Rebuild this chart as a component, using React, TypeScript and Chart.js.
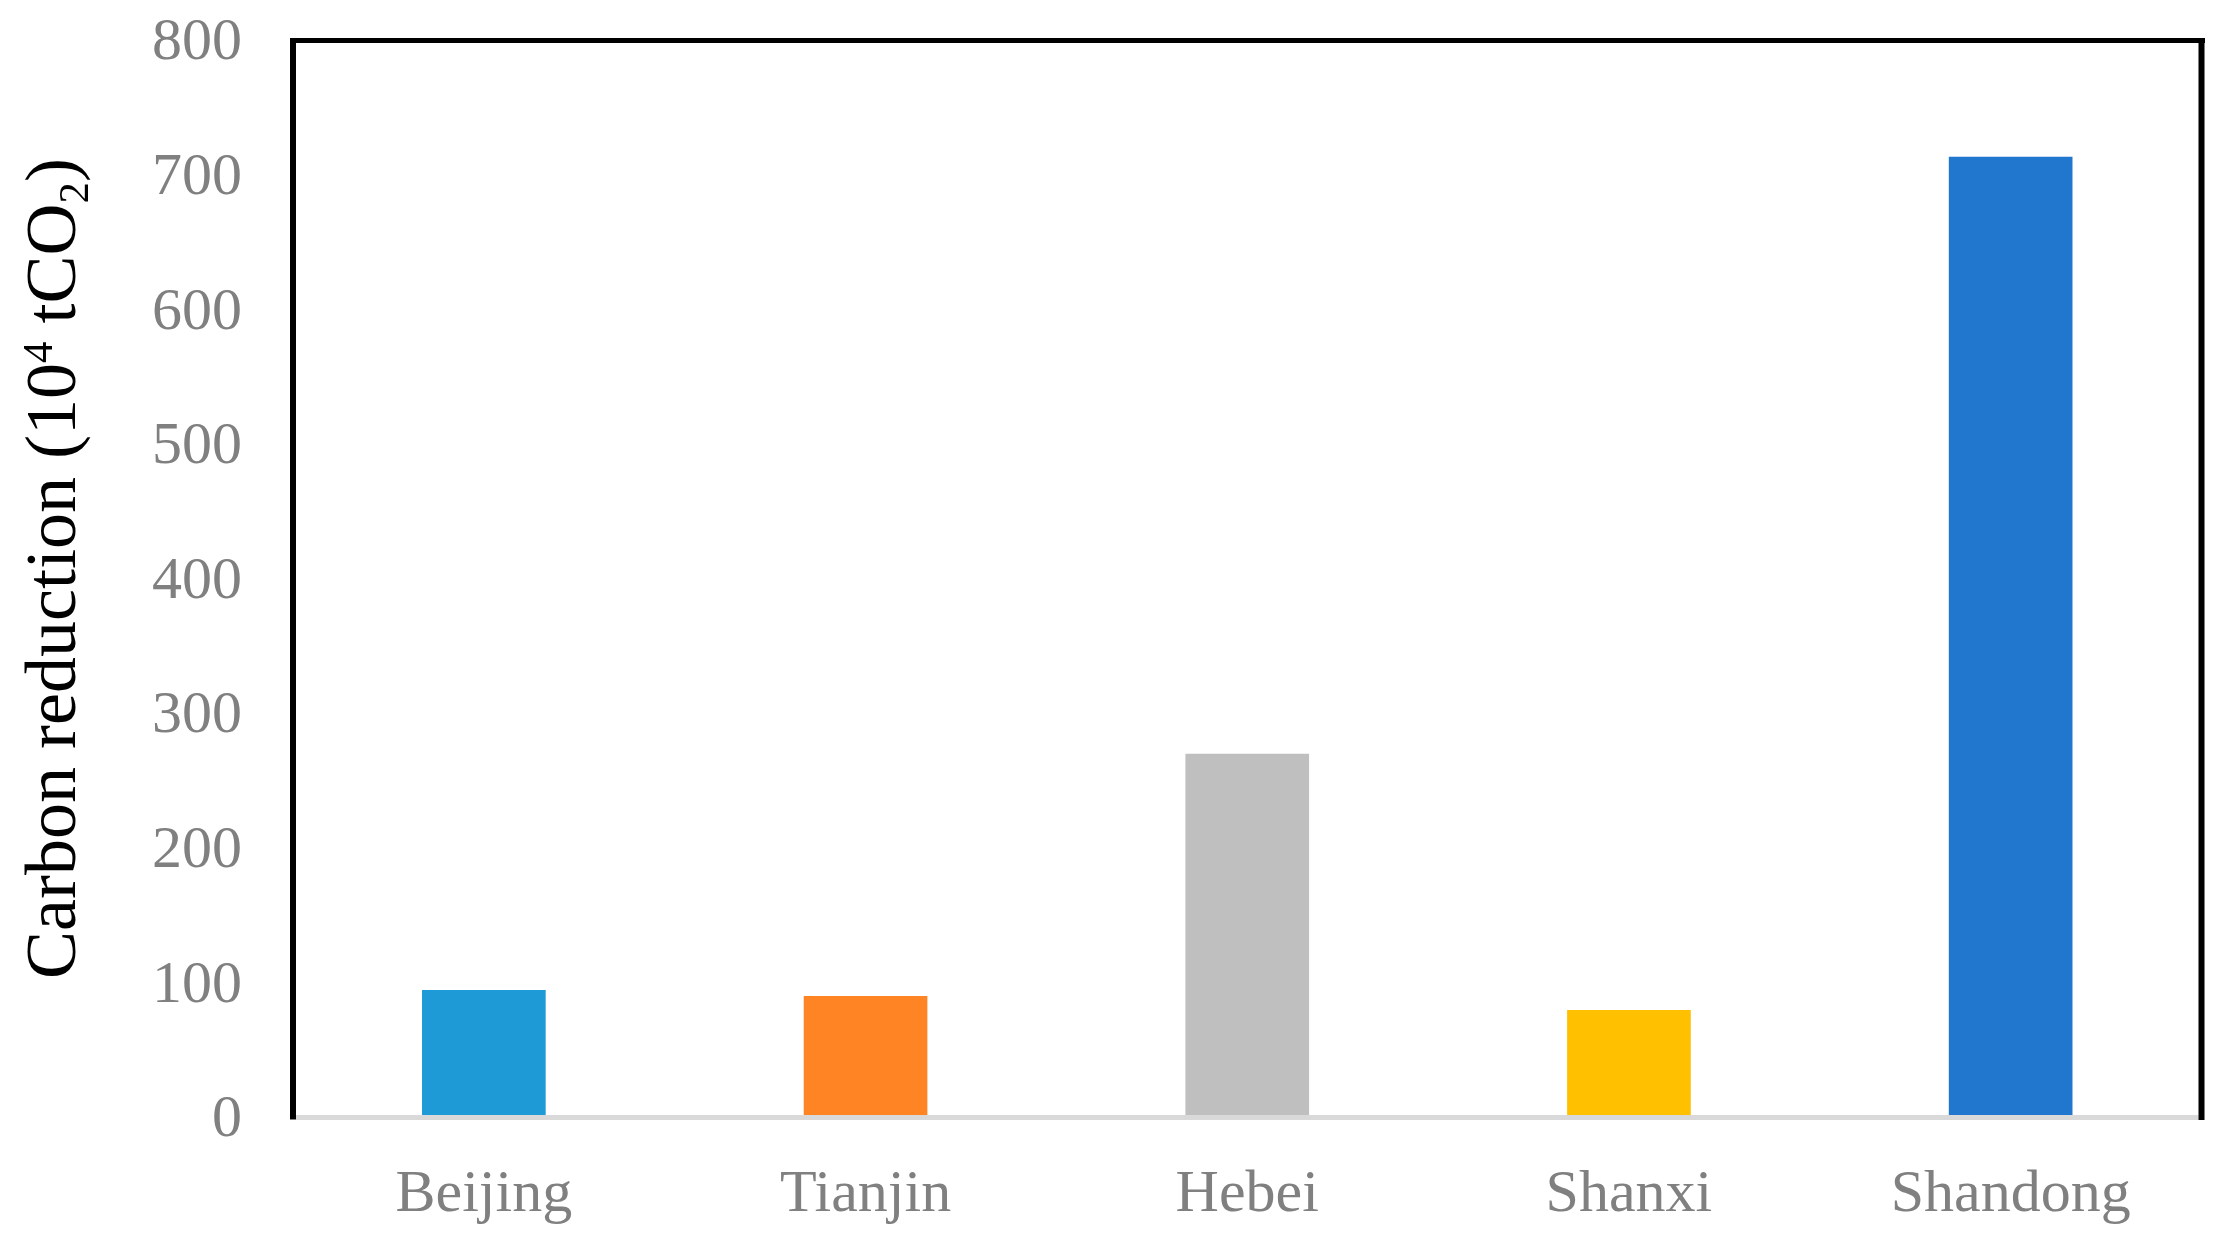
import React, { useEffect, useRef } from "react";
import { Chart, registerables } from "chart.js";

Chart.register(...registerables);

const categories = ["Beijing", "Tianjin", "Hebei", "Shanxi", "Shandong"];
const carbonReduction = [94.7, 90.2, 270.2, 79.8, 713.7];
const barColors = ["#1e9bd7", "#ff8524", "#bfbfbf", "#ffc000", "#2176ce"];
const yMin = 0;
const yMax = 800;
const yStep = 100;
const titleParts = [
  { text: "Carbon reduction (10", kind: "normal" },
  { text: "4", kind: "sup" },
  { text: " tCO", kind: "normal" },
  { text: "2", kind: "sub" },
  { text: ")", kind: "normal" },
];

const SERIF = "'Times New Roman', 'Liberation Serif', serif";

const framePlugin = {
  id: "frame",
  afterDatasetsDraw(chart: any) {
    const { ctx, chartArea } = chart;
    const { left, right, top, bottom } = chartArea;
    ctx.save();
    ctx.lineCap = "butt";
    // bottom axis (gray)
    ctx.strokeStyle = "#d9d9d9";
    ctx.lineWidth = 5;
    ctx.beginPath();
    ctx.moveTo(left + 3, bottom);
    ctx.lineTo(right - 3, bottom);
    ctx.stroke();
    // black frame: left, top, right
    ctx.strokeStyle = "#000000";
    ctx.lineWidth = 6;
    ctx.beginPath();
    ctx.moveTo(left, bottom + 2);
    ctx.lineTo(left, top - 2.5);
    ctx.stroke();
    ctx.lineWidth = 5;
    ctx.beginPath();
    ctx.moveTo(left - 3, top);
    ctx.lineTo(right + 3.5, top);
    ctx.stroke();
    ctx.lineWidth = 6;
    ctx.beginPath();
    ctx.moveTo(right, top - 2.5);
    ctx.lineTo(right, bottom + 2.5);
    ctx.stroke();
    ctx.restore();
  },
};

const yTitlePlugin = {
  id: "yTitleRich",
  afterDraw(chart: any) {
    const { ctx } = chart;
    const big = 72;
    const small = 43;
    const fontBig = `${big}px ${SERIF}`;
    const fontSmall = `${small}px ${SERIF}`;
    ctx.save();
    ctx.fillStyle = "#000000";
    ctx.textBaseline = "alphabetic";
    ctx.textAlign = "left";
    let total = 0;
    const widths = titleParts.map((p) => {
      ctx.font = p.kind === "normal" ? fontBig : fontSmall;
      const w = ctx.measureText(p.text).width;
      total += w;
      return w;
    });
    ctx.translate(75, 568.5);
    ctx.rotate(-Math.PI / 2);
    let x = -total / 2;
    titleParts.forEach((p, i) => {
      ctx.font = p.kind === "normal" ? fontBig : fontSmall;
      let dy = 0;
      if (p.kind === "sup") dy = -23;
      if (p.kind === "sub") dy = 13;
      ctx.fillText(p.text, x, dy);
      x += widths[i];
    });
    ctx.restore();
  },
};

export default function App() {
  const canvasRef = useRef<HTMLCanvasElement | null>(null);

  useEffect(() => {
    const canvas = canvasRef.current;
    if (!canvas) return;
    const chart = new Chart(canvas, {
      type: "bar",
      data: {
        labels: categories,
        datasets: [
          {
            label: "Carbon reduction",
            data: carbonReduction,
            backgroundColor: barColors,
            borderWidth: 0,
            categoryPercentage: 1,
            barPercentage: 0.324,
          },
        ],
      },
      options: {
        responsive: false,
        animation: false,
        devicePixelRatio: 1,
        layout: { padding: { top: 40.5, right: 13.5, left: 0, bottom: 0 } },
        plugins: {
          legend: { display: false },
          tooltip: { enabled: false },
          title: { display: false },
        },
        scales: {
          x: {
            type: "category",
            grid: { display: false, drawTicks: false },
            border: { display: false },
            ticks: {
              color: "#808080",
              font: { family: SERIF, size: 60 },
              padding: 42,
              maxRotation: 0,
              autoSkip: false,
            },
            afterFit(scale: any) {
              scale.height = 124.5;
            },
          },
          y: {
            min: yMin,
            max: yMax,
            grid: {
              display: true,
              drawOnChartArea: false,
              drawTicks: true,
              tickLength: 48,
              color: "rgba(0,0,0,0)",
            },
            border: { display: false },
            title: { display: false },
            ticks: {
              stepSize: yStep,
              color: "#808080",
              font: { family: SERIF, size: 60 },
              padding: 3,
              labelOffset: 3,
            },
            afterFit(scale: any) {
              scale.width = 293;
            },
          },
        },
      },
      plugins: [framePlugin, yTitlePlugin],
    });
    return () => chart.destroy();
  }, []);

  return (
    <div style={{ position: "fixed", left: 0, top: 0, width: 2215, height: 1242, background: "#ffffff" }}>
      <canvas ref={canvasRef} width={2215} height={1242} style={{ display: "block" }} />
    </div>
  );
}
